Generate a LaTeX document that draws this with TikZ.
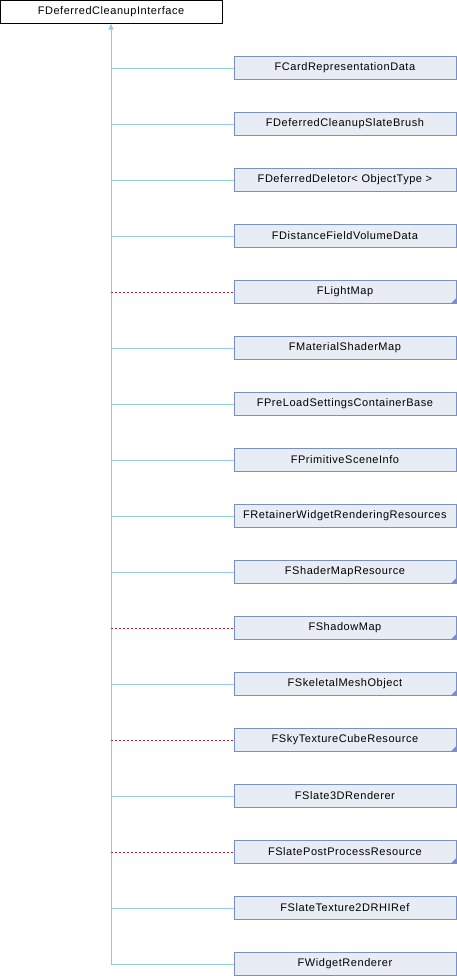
\documentclass[tikz,border=0pt]{standalone}
\usepackage{fontspec}
\setmainfont{Liberation Sans}[LetterSpace=5]
\usetikzlibrary{arrows.meta}
\definecolor{boxfill}{HTML}{E8ECF5}
\definecolor{boxdraw}{HTML}{7890C6}
\definecolor{edgeblue}{HTML}{90C8E8}
\definecolor{edgered}{HTML}{B8242A}
\begin{document}
\begin{tikzpicture}[x=1pt,y=-1pt,
  cls/.style={draw=boxdraw,fill=boxfill,line width=0.9pt,minimum width=222pt,minimum height=23pt,inner sep=0pt,font=\fontsize{11}{13}\selectfont,anchor=west},
  topcls/.style={draw=black,fill=white,line width=0.9pt,minimum width=222pt,minimum height=23pt,inner sep=0pt,font=\fontsize{11}{13}\selectfont},
  pub/.style={draw=edgeblue,line width=0.8pt},
  priv/.style={draw=edgered,line width=0.8pt,dash pattern=on 2pt off 2pt},
  trunk/.style={draw=edgeblue,line width=0.8pt,-{Triangle[open,length=6pt,width=5pt,fill=edgeblue]}},
  ]
\useasboundingbox (0,0) rectangle (456,976);
\node[topcls] (top) at (111,11.8) {FDeferredCleanupInterface};
\coordinate (trunkend) at (111,964);
\draw[trunk] (trunkend) -- (top.south);
\foreach \i/\name/\lab/\st/\tri in {
 0/c0/FCardRepresentationData/pub/0,
 1/c1/FDeferredCleanupSlateBrush/pub/0,
 2/c2/{FDeferredDeletor< ObjectType >}/pub/0,
 3/c3/FDistanceFieldVolumeData/pub/0,
 4/c4/FLightMap/priv/1,
 5/c5/FMaterialShaderMap/pub/0,
 6/c6/FPreLoadSettingsContainerBase/pub/0,
 7/c7/FPrimitiveSceneInfo/pub/0,
 8/c8/FRetainerWidgetRenderingResources/pub/0,
 9/c9/FShaderMapResource/pub/1,
 10/c10/FShadowMap/priv/1,
 11/c11/FSkeletalMeshObject/pub/1,
 12/c12/FSkyTextureCubeResource/priv/1,
 13/c13/FSlate3DRenderer/pub/0,
 14/c14/FSlatePostProcessResource/priv/1,
 15/c15/FSlateTexture2DRHIRef/pub/0,
 16/c16/FWidgetRenderer/pub/0}{
  \node[cls] (\name) at (233.5,68+56*\i) {\lab};
  \coordinate (j\name) at (111,68+56*\i);
  \draw[\st] (j\name) -- (\name.west);
  \ifnum\tri=1
    \fill[boxdraw] (\name.south east) ++(-0.5,-0.5) -- ++(-5,0) -- ++(5,-5) -- cycle;
  \fi
}
\end{tikzpicture}
\end{document}
